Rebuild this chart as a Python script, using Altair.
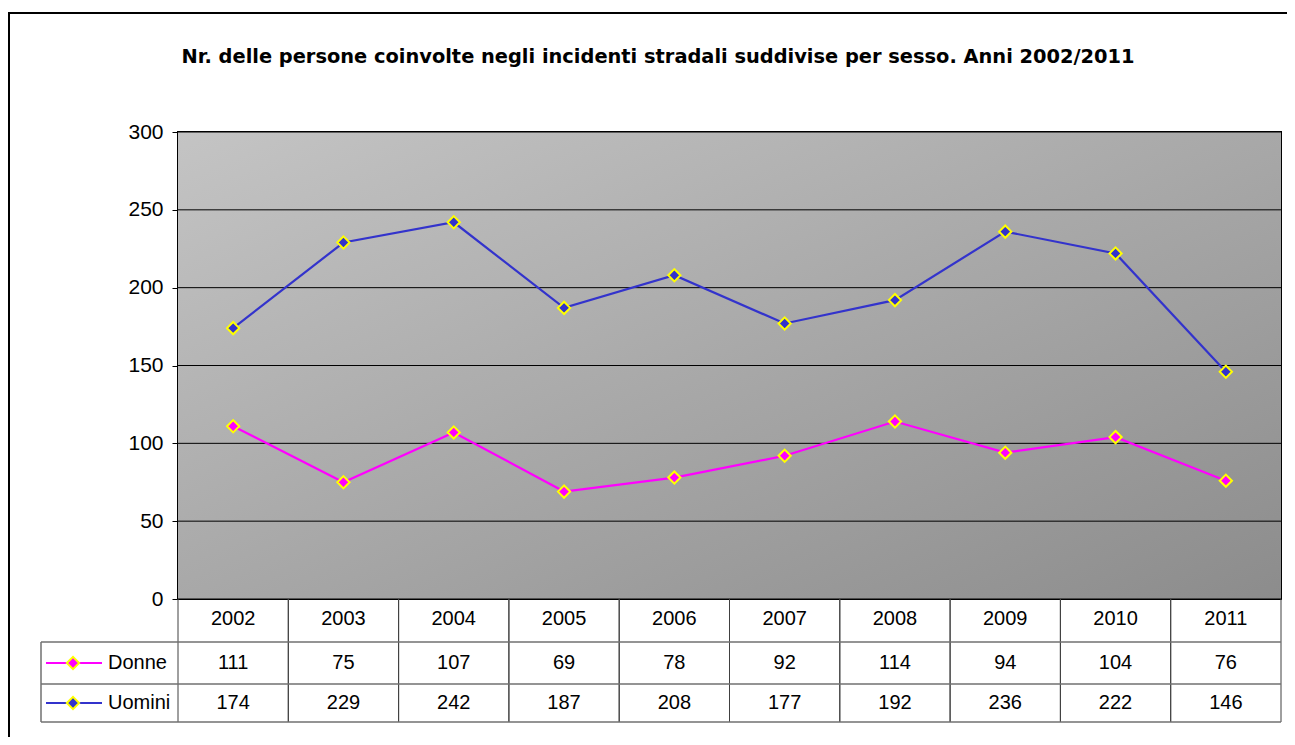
import altair as alt
import pandas as pd

years = ["2002", "2003", "2004", "2005", "2006", "2007", "2008", "2009", "2010", "2011"]
donne = [111, 75, 107, 69, 78, 92, 114, 94, 104, 76]
uomini = [174, 229, 242, 187, 208, 177, 192, 236, 222, 146]
series_names = ["Donne", "Uomini"]
series_colors = ["#ff00ff", "#3333cc"]
title_text = "Nr. delle persone coinvolte negli incidenti stradali suddivise per sesso. Anni 2002/2011"
y_ticks = [0, 50, 100, 150, 200, 250, 300]

W, H = 1103, 467
FONT = "Liberation Sans"

long = pd.DataFrame(
    [{"year": y, "serie": "Donne", "value": v} for y, v in zip(years, donne)]
    + [{"year": y, "serie": "Uomini", "value": v} for y, v in zip(years, uomini)]
)
yr = pd.DataFrame({"year": years})

xs = alt.Scale(domain=years, paddingInner=0, paddingOuter=0)
ys = alt.Scale(domain=[0, 300], nice=False)
cs = alt.Scale(domain=series_names, range=series_colors)

bg = alt.Chart(pd.DataFrame({"a": [0]})).mark_rect(
    color=alt.Gradient(
        gradient="linear",
        stops=[alt.GradientStop(color="#c4c4c4", offset=0),
               alt.GradientStop(color="#8c8c8c", offset=1)],
        x1=0, y1=0, x2=1, y2=1,
    )
).encode(x=alt.value(0), x2=alt.value(W), y=alt.value(0), y2=alt.value(H))

grid = alt.Chart(pd.DataFrame({"v": y_ticks})).mark_rule(color="#000000", strokeWidth=1).encode(
    y=alt.Y("v:Q", scale=ys, axis=alt.Axis(
        values=y_ticks, title=None, grid=False, domain=True, domainColor="#000000", domainWidth=2,
        tickColor="#000000", tickSize=6, labelPadding=9, labelFontSize=21, labelFont=FONT,
        labelColor="#000000")),
    x=alt.value(0), x2=alt.value(W),
)

lines = alt.Chart(long).mark_line(strokeWidth=2.2).encode(
    x=alt.X("year:N", scale=xs, axis=None),
    y=alt.Y("value:Q", scale=ys),
    color=alt.Color("serie:N", scale=cs, legend=None),
)
pts = alt.Chart(long).mark_point(shape="diamond", size=150, filled=True, stroke="#ffff00",
                                 strokeWidth=2, opacity=1).encode(
    x=alt.X("year:N", scale=xs),
    y=alt.Y("value:Q", scale=ys),
    fill=alt.Color("serie:N", scale=cs, legend=None),
)

# table rows
ROW_Y = [487, 531, 571]
txt_year = alt.Chart(yr).mark_text(fontSize=20, font=FONT, color="#000000").encode(
    x=alt.X("year:N", scale=xs), y=alt.value(ROW_Y[0]), text="year:N")
txt_d = alt.Chart(long[long.serie == "Donne"]).mark_text(fontSize=20, font=FONT, color="#000000").encode(
    x=alt.X("year:N", scale=xs), y=alt.value(ROW_Y[1]), text="value:Q")
txt_u = alt.Chart(long[long.serie == "Uomini"]).mark_text(fontSize=20, font=FONT, color="#000000").encode(
    x=alt.X("year:N", scale=xs), y=alt.value(ROW_Y[2]), text="value:Q")

vlines_l = alt.Chart(yr).mark_rule(color="#404040", strokeWidth=1).encode(
    x=alt.X("year:N", scale=xs, bandPosition=0), y=alt.value(H), y2=alt.value(590))
vlines_r = alt.Chart(yr).mark_rule(color="#404040", strokeWidth=1).encode(
    x=alt.X("year:N", scale=xs, bandPosition=1), y=alt.value(H), y2=alt.value(590))

hl = pd.DataFrame({"y": [510, 552, 590]})
hlines = alt.Chart(hl).mark_rule(color="#707070", strokeWidth=1.5).encode(
    x=alt.value(-137), x2=alt.value(W), y=alt.Y("y:Q", scale=None))
left_line = alt.Chart(pd.DataFrame({"a": [0]})).mark_rule(color="#707070", strokeWidth=1.5).encode(
    x=alt.value(-137), y=alt.value(510), y2=alt.value(590))

leg = pd.DataFrame({"serie": series_names, "ly": ROW_Y[1:]})
leg_line = alt.Chart(leg).mark_rule(strokeWidth=2).encode(
    x=alt.value(-132), x2=alt.value(-76), y=alt.Y("ly:Q", scale=None),
    color=alt.Color("serie:N", scale=cs, legend=None))
leg_pt = alt.Chart(leg).mark_point(shape="diamond", size=150, filled=True, stroke="#ffff00",
                                   strokeWidth=2, opacity=1).encode(
    x=alt.value(-105), y=alt.Y("ly:Q", scale=None),
    fill=alt.Color("serie:N", scale=cs, legend=None))
leg_txt = alt.Chart(leg).mark_text(align="left", fontSize=20, font=FONT, color="#000000").encode(
    x=alt.value(-70), y=alt.Y("ly:Q", scale=None), text="serie:N")

title = alt.Chart(pd.DataFrame({"t": [title_text]})).mark_text(
    fontSize=19.4, font="DejaVu Sans", fontWeight="bold", color="#000000", align="center", baseline="middle"
).encode(x=alt.value(480), y=alt.value(-75), text="t:N")

# outer chart border (top and left)
border_top = alt.Chart(pd.DataFrame({"a": [0]})).mark_rule(color="#000000", strokeWidth=2).encode(
    x=alt.value(-170), x2=alt.value(W + 6), y=alt.value(-119))
border_left = alt.Chart(pd.DataFrame({"a": [0]})).mark_rule(color="#000000", strokeWidth=2).encode(
    x=alt.value(-169), y=alt.value(-120), y2=alt.value(H + 140))

chart = alt.layer(
    bg, grid, lines, pts, vlines_l, vlines_r, hlines, left_line,
    txt_year, txt_d, txt_u, leg_line, leg_pt, leg_txt, title, border_top, border_left,
).properties(
    width=W, height=H,
    autosize=alt.AutoSizeParams(type="none"),
    padding={"left": 170, "top": 124, "right": 6, "bottom": 138},
).configure_view(stroke="#000000", strokeWidth=2)

chart.save("out.html", embed_options={"renderer": "svg", "actions": False})
